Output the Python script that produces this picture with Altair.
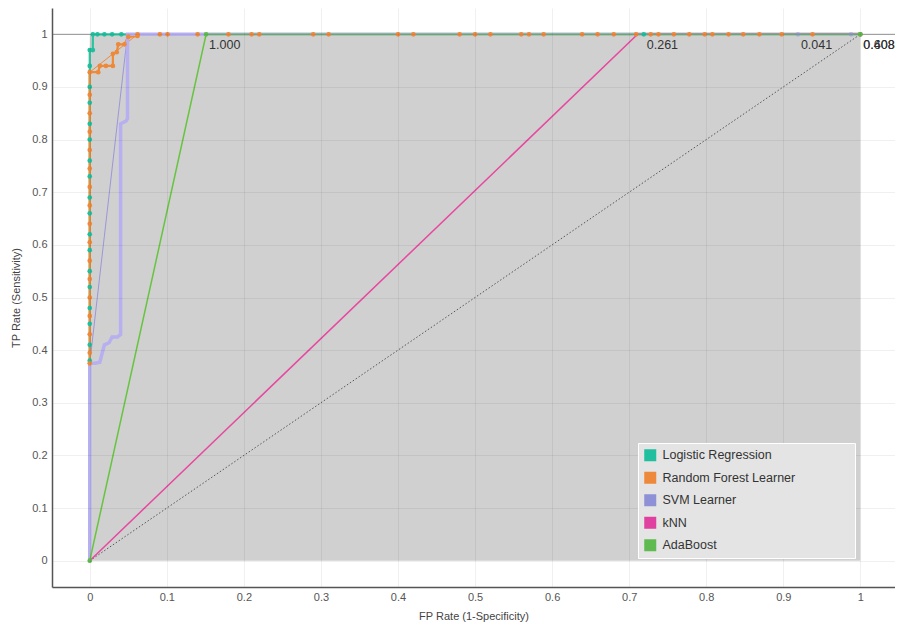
import altair as alt
import pandas as pd

FONT = "Liberation Sans"

MODELS = ["Logistic Regression", "Random Forest Learner", "SVM Learner", "kNN", "AdaBoost"]
DOT_COLORS = ["#1fbf9f", "#ee883a", "#8e91d6", "#e0409f", "#5fba50"]

TICKS = [0, 0.1, 0.2, 0.3, 0.4, 0.5, 0.6, 0.7, 0.8, 0.9, 1]

# Logistic Regression curve
LR_FPR = [0, 0, 0, 0, 0, 0, 0, 0, 0, 0, 0, 0, 0, 0, 0, 0, 0, 0, 0, 0.004, 0.004, 0.010, 0.019, 0.029, 0.041, 0.719, 1.0]
LR_TPR = [0, 0.38, 0.41, 0.45, 0.48, 0.52, 0.55, 0.59, 0.62, 0.66, 0.69, 0.73, 0.76, 0.80, 0.83, 0.87, 0.90, 0.94, 0.97, 0.97, 1.0, 1.0, 1.0, 1.0, 1.0, 1.0, 1.0]

# Random Forest curve
RF_FPR = [0, 0, 0, 0, 0, 0, 0, 0, 0, 0, 0, 0, 0, 0, 0, 0, 0, 0,
          0.011, 0.013, 0.021, 0.030, 0.030, 0.035, 0.037, 0.045, 0.050, 0.062, 0.062,
          0.091, 0.101, 0.140, 0.180, 0.210, 0.220, 0.290, 0.310, 0.400, 0.420, 0.480, 0.500,
          0.520, 0.560, 0.570, 0.589, 0.639, 0.659, 0.680, 0.709, 0.728, 0.738, 0.758, 0.778,
          0.798, 0.808, 0.829, 0.848, 0.869, 0.898, 0.938, 1.0]
RF_TPR = [0, 0.375, 0.395, 0.43, 0.465, 0.50, 0.535, 0.57, 0.605, 0.64, 0.675, 0.71, 0.745, 0.78, 0.815, 0.85, 0.885, 0.928,
          0.928, 0.940, 0.940, 0.940, 0.963, 0.966, 0.981, 0.981, 0.995, 0.997, 1.0,
          1.0, 1.0, 1.0, 1.0, 1.0, 1.0, 1.0, 1.0, 1.0, 1.0, 1.0, 1.0,
          1.0, 1.0, 1.0, 1.0, 1.0, 1.0, 1.0, 1.0, 1.0, 1.0, 1.0, 1.0,
          1.0, 1.0, 1.0, 1.0, 1.0, 1.0, 1.0, 1.0]
RF_HULL_FPR = [0, 0.062]
RF_HULL_TPR = [0.928, 1.0]

# SVM curve
SVM_FPR = [0, 0, 0.007, 0.013, 0.019, 0.025, 0.029, 0.036, 0.040, 0.040, 0.047, 0.049, 0.049, 0.919, 0.988, 1.0]
SVM_TPR = [0, 0.375, 0.375, 0.377, 0.41, 0.414, 0.425, 0.425, 0.43, 0.83, 0.835, 0.84, 1.0, 1.0, 1.0, 1.0]
SVM_HULL_FPR = [0, 0.049]
SVM_HULL_TPR = [0.375, 1.0]
SVM_DOT_FPR = [0.919, 0.988]
SVM_DOT_TPR = [1.0, 1.0]

# kNN and AdaBoost
KNN_FPR = [0, 0.711, 1.0]
KNN_TPR = [0, 1.0, 1.0]
ADA_FPR = [0, 0.151, 1.0]
ADA_TPR = [0, 1.0, 1.0]

# diagonal
DIAG_FPR = [0, 1]
DIAG_TPR = [0, 1]

# threshold labels
LAB_FPR = [0.151, 0.719, 0.919, 1.0, 1.0]
LAB_TPR = [1.0, 1.0, 1.0, 1.0, 1.0]
LAB_TEXT = ["1.000", "0.261", "0.041", "0.408", "0.608"]

xscale = alt.Scale(domain=[-0.049, 1.045], nice=False, zero=False)
yscale = alt.Scale(domain=[-0.05, 1.05], nice=False, zero=False)

xaxis = alt.Axis(values=TICKS, format=".1~f", title="FP Rate (1-Specificity)", ticks=False,
                 labelFont=FONT, labelFontSize=11, labelColor="#555", labelPadding=4,
                 titleFont=FONT, titleFontSize=11, titleFontWeight="normal", titleColor="#444", titlePadding=8,
                 domainColor="#555", domainWidth=1.5, grid=True, gridColor="#000", gridOpacity=0.06, zindex=1)
yaxis = alt.Axis(values=TICKS, format=".1~f", title="TP Rate (Sensitivity)", ticks=False,
                 labelFont=FONT, labelFontSize=11, labelColor="#555", labelPadding=5,
                 titleFont=FONT, titleFontSize=11, titleFontWeight="normal", titleColor="#444", titlePadding=10,
                 domainColor="#555", domainWidth=1.5, grid=True, gridColor="#000", gridOpacity=0.06, zindex=1)

X = alt.X("fpr:Q", scale=xscale, axis=xaxis)
Y = alt.Y("tpr:Q", scale=yscale, axis=yaxis)


def line(fpr, tpr, color, width, opacity=1.0, dash=None):
    df = pd.DataFrame({"fpr": fpr, "tpr": tpr, "i": list(range(len(fpr)))})
    kw = dict(color=color, strokeWidth=width, opacity=opacity)
    if dash:
        kw["strokeDash"] = dash
    return alt.Chart(df).mark_line(**kw).encode(x=X, y=Y, order="i:Q")


area_df = pd.DataFrame({"fpr": [0.0], "fpr2": [1.0], "tpr": [0.0], "tpr2": [1.0]})
area = alt.Chart(area_df).mark_rect(color="#d0d0d0").encode(x=X, x2="fpr2", y=Y, y2="tpr2")

top_rule = alt.Chart(pd.DataFrame({"tpr": [1.0]})).mark_rule(color="#999", strokeWidth=1).encode(y=Y)

layers = [
    area,
    top_rule,
    line(DIAG_FPR, DIAG_TPR, "#555", 1, dash=[1.5, 2]),
    line(RF_HULL_FPR, RF_HULL_TPR, "#ee8a3a", 1),
    line(SVM_HULL_FPR, SVM_HULL_TPR, "#9c96da", 1),
    line(LR_FPR, LR_TPR, "#2cc49e", 2.2),
    line(RF_FPR, RF_TPR, "#f08a34", 2.2),
    line(SVM_FPR, SVM_TPR, "#b6aff0", 3.5),
    line(KNN_FPR, KNN_TPR, "#e8489f", 1.5),
    line(ADA_FPR, ADA_TPR, "#66c43f", 1.5),
]

dot_rows = []
for f, t in zip(LR_FPR[1:], LR_TPR[1:]):
    dot_rows.append({"fpr": f, "tpr": t, "model": MODELS[0], "alpha": 1.0})
for f, t in zip(RF_FPR[1:], RF_TPR[1:]):
    dot_rows.append({"fpr": f, "tpr": t, "model": MODELS[1], "alpha": 1.0})
for f, t in zip(SVM_DOT_FPR, SVM_DOT_TPR):
    dot_rows.append({"fpr": f, "tpr": t, "model": MODELS[2], "alpha": 0.5})
for f, t in zip(ADA_FPR, ADA_TPR):
    dot_rows.append({"fpr": f, "tpr": t, "model": MODELS[4], "alpha": 1.0})
dots_df = pd.DataFrame(dot_rows)

legend = alt.Legend(title=".", titleOpacity=0, titleOrient="right", titleFontSize=12, titlePadding=50,
                    orient="none", legendX=586, legendY=435, zindex=2,
                    symbolType="square", symbolSize=144, symbolOpacity=1, symbolStrokeWidth=0,
                    labelFont=FONT, labelFontSize=12.5, labelColor="#333", labelOffset=6,
                    rowPadding=9.5, padding=6, fillColor="#e4e4e4", strokeColor="#ffffff")

dots = alt.Chart(dots_df).mark_circle(size=22).encode(
    x=X, y=Y,
    color=alt.Color("model:N", scale=alt.Scale(domain=MODELS, range=DOT_COLORS), legend=legend),
    opacity=alt.Opacity("alpha:Q", scale=None, legend=None),
)

lab_df = pd.DataFrame({"fpr": LAB_FPR, "tpr": LAB_TPR, "label": LAB_TEXT})
labels = alt.Chart(lab_df).mark_text(align="left", baseline="middle", dx=3, dy=11,
                                     font=FONT, fontSize=12.5, color="#333").encode(x=X, y=Y, text="label:N")

chart = alt.layer(*layers, dots, labels).properties(
    width=843, height=579,
    autosize=alt.AutoSizeParams(type="none"),
    padding={"left": 44, "top": 0, "right": 0, "bottom": 38},
    background="white",
).configure_view(strokeWidth=0)

chart.save("out.html", embed_options={"renderer": "svg", "actions": False})
